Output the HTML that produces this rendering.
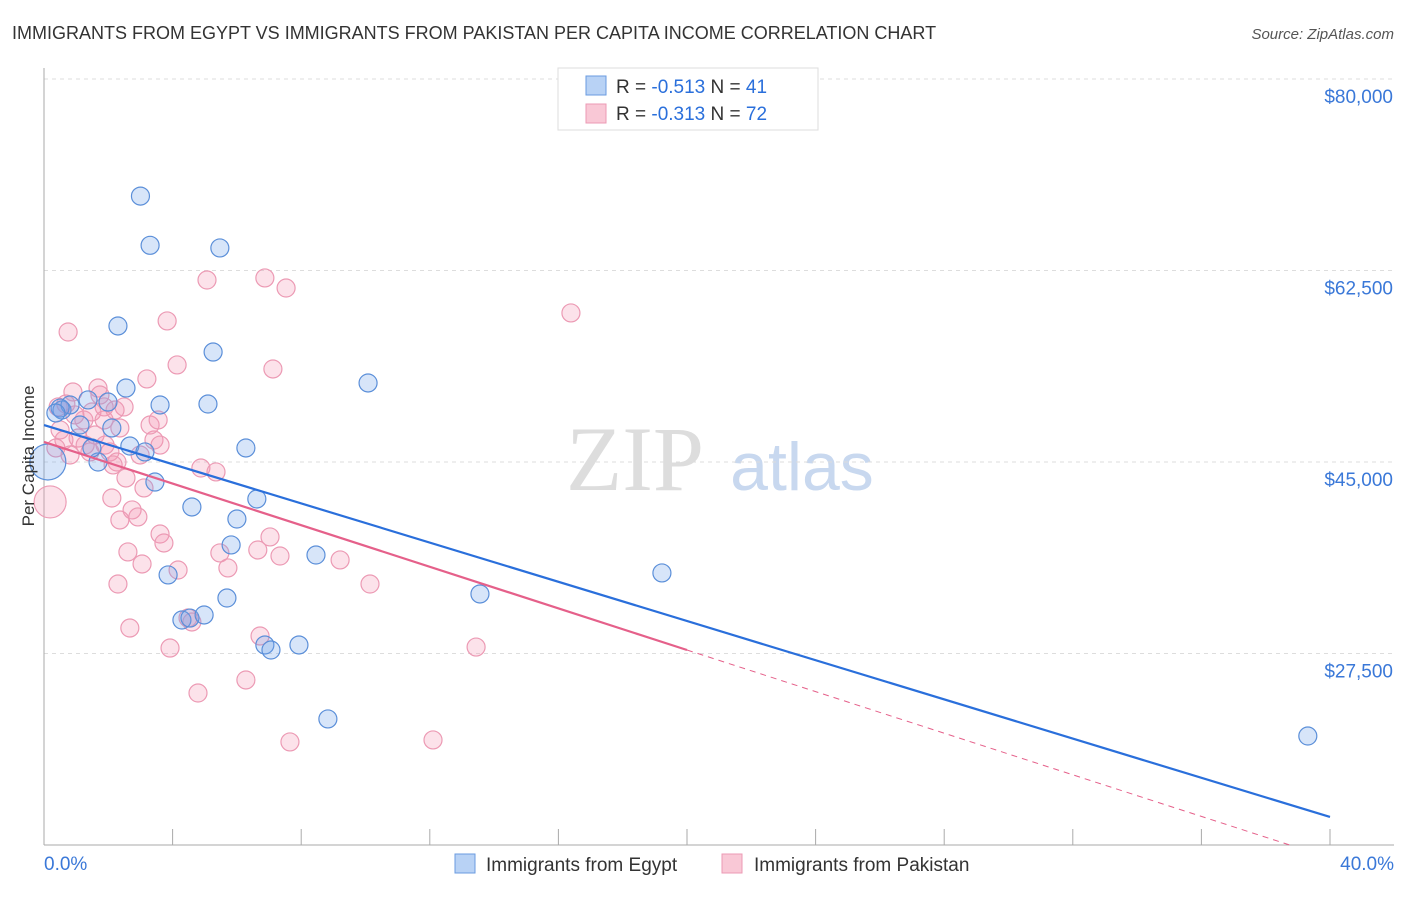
<!DOCTYPE html>
<html><head><meta charset="utf-8"><style>
body{margin:0;background:#fff;font-family:"Liberation Sans",sans-serif}
</style></head><body>
<svg id="chart" width="1406" height="892" xmlns="http://www.w3.org/2000/svg" font-family="Liberation Sans, sans-serif">
<text x="12" y="39" font-size="18" fill="#333">IMMIGRANTS FROM EGYPT VS IMMIGRANTS FROM PAKISTAN PER CAPITA INCOME CORRELATION CHART</text>
<text x="1394" y="39" font-size="15" fill="#555" font-style="italic" text-anchor="end">Source: ZipAtlas.com</text>
<g>
<text x="635" y="490" font-size="92" fill="#ddd" font-family="Liberation Serif, serif" text-anchor="middle">ZIP</text>
<text x="802" y="490" font-size="68" fill="#c8d8ef" text-anchor="middle">atlas</text></g>
<g id="grid"></g><g id="axes"></g><g id="marks"></g><g id="lines"></g>
<text transform="translate(34,456) rotate(-90)" font-size="17" fill="#333" text-anchor="middle">Per Capita Income</text>
<g>
<rect x="558" y="68" width="260" height="62" fill="#fff" stroke="#ddd"/>
<rect x="586" y="76" width="20" height="19" fill="#b8d2f5" stroke="#6a9be0"/>
<rect x="586" y="104" width="20" height="19" fill="#f9c8d6" stroke="#ec9ab4"/>
<text x="616" y="93" font-size="19" fill="#333">R = <tspan fill="#2a6fdb">-0.513</tspan>   N = <tspan fill="#2a6fdb">41</tspan></text>
<text x="616" y="120" font-size="19" fill="#333">R = <tspan fill="#2a6fdb">-0.313</tspan>   N = <tspan fill="#2a6fdb">72</tspan></text></g>
<g>
<rect x="455" y="854" width="20" height="19" fill="#b8d2f5" stroke="#6a9be0"/>
<text x="486" y="871" font-size="19" fill="#333">Immigrants from Egypt</text>
<rect x="722" y="854" width="20" height="19" fill="#f9c8d6" stroke="#ec9ab4"/>
<text x="754" y="871" font-size="19" fill="#333">Immigrants from Pakistan</text></g>
</svg>
<script>
const yTicks=[80000,62500,45000,27500];
const yTickLabels=["$80,000","$62,500","$45,000","$27,500"];
const xTickLabels=["0.0%","40.0%"];
const egyptX=[3.0,3.3,5.47,2.3,5.26,10.08,2.55,1.99,3.61,5.1,0.56,0.81,1.37,1.12,6.28,2.67,3.14,1.68,3.45,6.62,4.6,6.0,5.82,8.46,19.22,3.86,5.69,13.56,4.29,4.54,4.98,6.87,7.06,7.93,8.83,39.31,0.12,1.49,0.5,0.37,2.11];
const egyptY=[69300,64800,64560,57430,55050,52220,51760,50480,50210,50300,49750,50210,50670,48380,46280,46460,45920,45000,43170,41620,40890,39790,37420,36500,34860,34680,32570,32940,30560,30740,31020,28280,27820,28280,21520,19960,45000,46280,49930,49480,48110];
const pakX=[0.75,3.83,5.07,6.87,7.53,16.39,4.14,7.12,3.2,0.9,1.68,1.87,2.49,0.44,0.68,1.24,1.49,1.87,2.36,1.59,1.06,0.62,0.37,1.43,2.05,3.42,3.3,3.55,2.27,2.15,4.88,5.35,2.55,3.11,2.11,0.19,2.74,2.36,2.92,3.61,3.73,7.03,6.65,2.61,5.47,7.34,9.21,3.05,4.17,5.72,2.3,10.14,2.67,4.48,4.6,6.72,3.92,13.44,6.28,4.79,7.65,12.1,0.5,1.74,1.28,3.61,1.9,0.81,2.99,0.96,2.21];
const pakY=[56880,57890,61630,61820,60900,58620,53870,53500,52590,51400,51760,50030,50030,50030,50300,48840,49570,48840,48110,47470,47190,47010,46280,45920,45920,47010,48380,48840,45000,44730,44450,44090,43540,42630,41710,41350,40620,39700,39980,38420,37600,38150,36960,36780,36690,36410,36050,35680,35130,35320,33850,33850,29830,30750,30380,29100,28000,28090,25080,23890,19420,19600,47930,51120,46550,46550,46550,45640,45640,49300,49750];
const egyptTrend=[48380,12560];
const pakTrend=[46830,27820];
const X=v=>44+v/40*1286, Y=v=>79+(80000-v)/17500*191.5;
const NS="http://www.w3.org/2000/svg";
function mk(p,t,a){const e=document.createElementNS(NS,t);for(const k in a)e.setAttribute(k,a[k]);p.appendChild(e);return e;}
const grid=document.getElementById('grid'),axes=document.getElementById('axes'),marks=document.getElementById('marks'),lines=document.getElementById('lines');
yTicks.forEach((v,i)=>{
 const g=mk(grid,'line',{x1:44,x2:1394,y1:Y(v),y2:Y(v),stroke:'#ddd','stroke-dasharray':'4,4'});
 
 
 const t=mk(axes,'text',{x:1393,y:Y(v)+24,'font-size':19,fill:'#3a78d8','text-anchor':'end'});t.textContent=yTickLabels[i];
 
 
});
const ax=mk(axes,'line',{x1:44,x2:44,y1:68,y2:845,stroke:'#aaa'});


const bx=mk(axes,'line',{x1:44,x2:1394,y1:845,y2:845,stroke:'#aaa'});


for(let p=0;p<=40;p+=4){const t=mk(axes,'line',{x1:X(p),x2:X(p),y1:829,y2:845,stroke:'#aaa'});
 
 }
[[0,'start',44],[40,'end',1394]].forEach((d,i)=>{const t=mk(axes,'text',{x:d[2],y:870,'font-size':19,fill:'#3a78d8','text-anchor':d[1]});t.textContent=xTickLabels[i];
 
 });
pakX.forEach((x,i)=>{const c=mk(marks,'circle',{cx:X(x),cy:Y(pakY[i]),r:i==35?16:9,fill:'rgba(244,150,180,0.28)',stroke:'#ec9ab4','stroke-width':1.2});
 
 });
egyptX.forEach((x,i)=>{const c=mk(marks,'circle',{cx:X(x),cy:Y(egyptY[i]),r:i==36?18:9,fill:'rgba(110,160,235,0.28)',stroke:'#5b8fd9','stroke-width':1.2});
 
 });
const bl=mk(lines,'line',{x1:X(0),y1:Y(egyptTrend[0]),x2:X(40),y2:Y(egyptTrend[1]),stroke:'#2a6fdb','stroke-width':2.2});


const pl=mk(lines,'line',{x1:X(0),y1:Y(pakTrend[0]),x2:X(20),y2:Y(pakTrend[1]),stroke:'#e5608a','stroke-width':2.2});


const slope=(pakTrend[1]-pakTrend[0])/20;const xe=Math.min(40,(10000-pakTrend[0])/slope);
const pd=mk(lines,'line',{x1:X(20),y1:Y(pakTrend[1]),x2:X(xe),y2:Y(pakTrend[0]+slope*xe),stroke:'#e5608a','stroke-width':1,'stroke-dasharray':'6,5'});


</script>
</body></html>
